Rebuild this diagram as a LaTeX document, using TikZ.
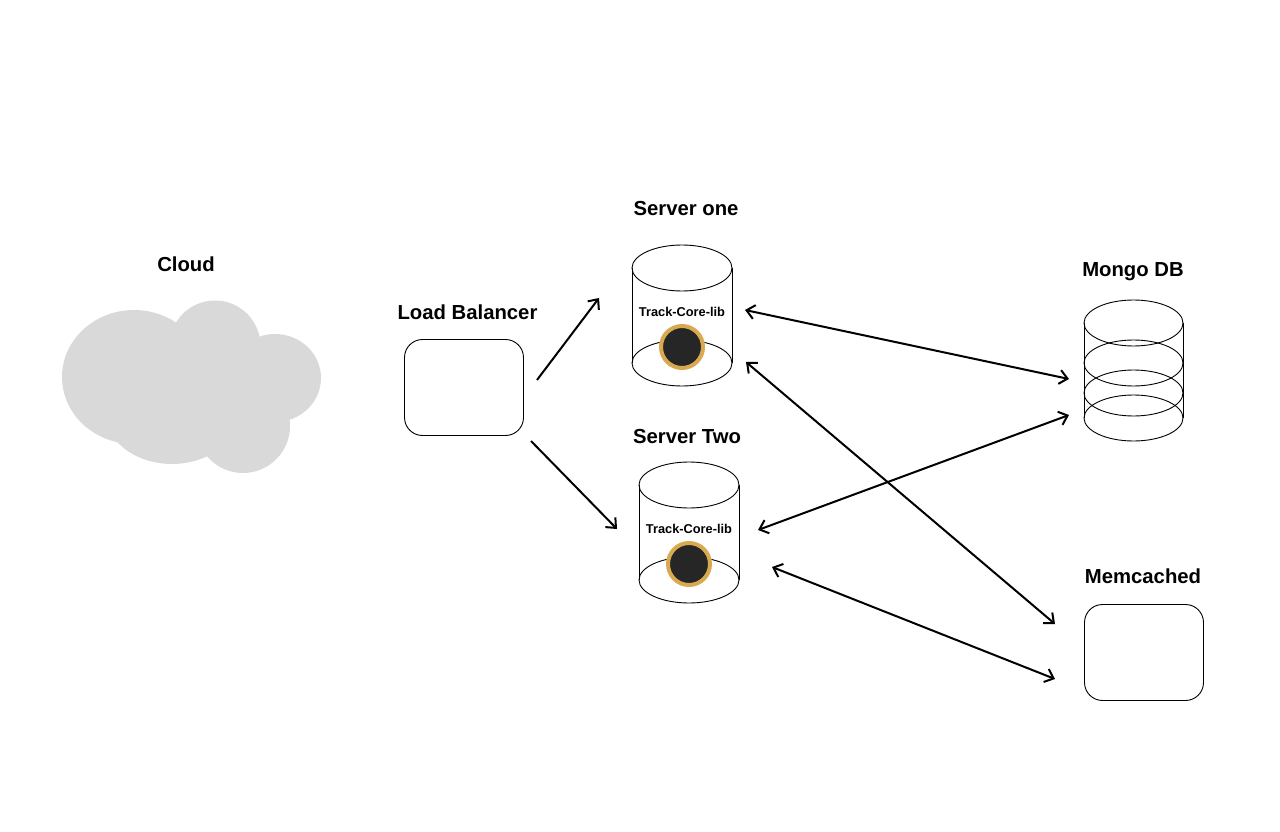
\documentclass[tikz,border=0pt]{standalone}
\usepackage{fontspec}
\setmainfont{Liberation Sans}
\usepackage{tikz}
\usetikzlibrary{%
	arrows.meta,%
	shapes.geometric%
}
\definecolor{Puff}{HTML}{D9D9D9}
\definecolor{Ring}{HTML}{D8A94F}
\definecolor{Core}{HTML}{262626}
\tikzset{
	title/.style={anchor=base,font=\fontsize{20.3}{24}\selectfont\bfseries},
	tag/.style={anchor=base,font=\fontsize{12.8}{14}\selectfont\bfseries},
	box/.style={draw,line width=0.9pt,rounded corners=18pt,minimum width=119pt,minimum height=96pt,inner sep=0pt},
	barb/.tip={Straight Barb[length=8pt,width=14pt,line width=2pt]},
	link/.style={line width=2pt,-barb},
	dlink/.style={line width=2pt,barb-barb},
	disc/.style={draw,line width=0.9pt}
}
\begin{document}
\begin{tikzpicture}[x=1pt,y=-1pt]
\useasboundingbox (0,0) rectangle (1280,832);

% cloud
\fill [Puff] (134,377) ellipse [x radius=72,y radius=67];
\fill [Puff] (215,346) circle [radius=45.5];
\fill [Puff] (275,378) ellipse [x radius=46,y radius=44];
\fill [Puff] (243,426) circle [radius=47];
\fill [Puff] (172,410) ellipse [x radius=68,y radius=54];
\node (cloud) at (186,271) [title] {Cloud};

\node (balancer) at (464,387.5) [box] {};
\node (balancertitle) at (467.5,319) [title] {Load Balancer};

% two servers, same drawing
\foreach \name/\cx/\cy in {one/682/268,two/689/485} {
	\draw [disc] (\cx-50,\cy) -- (\cx-50,\cy+95);
	\draw [disc] (\cx+50,\cy) -- (\cx+50,\cy+95);
	\draw [disc] (\cx,\cy) ellipse [x radius=50,y radius=23];
	\draw [disc] (\cx,\cy+95) ellipse [x radius=50,y radius=23];
	\node (core\name) at (\cx,\cy+79) [circle,draw=Ring,fill=Core,line width=4pt,minimum size=42pt,inner sep=0pt] {};
	\node (lib\name) at (\cx,\cy+48.5) [tag] {Track-Core-lib};
}
\node (serverone) at (686,215) [title] {Server one};
\node (servertwo) at (687,443) [title] {Server Two};

% mongo
\draw [disc] (1084,323) -- (1084,418);
\draw [disc] (1183,323) -- (1183,418);
\foreach \cy in {323,363,393,418}
	\draw [disc] (1133.5,\cy) ellipse [x radius=49.5,y radius=23];
\node (mongo) at (1133,276) [title] {Mongo DB};

\node (memcached) at (1144,652.5) [box] {};
\node (memcachedtitle) at (1143,583) [title] {Memcached};

\coordinate (a1) at (537,380);
\coordinate (a2) at (599,298);
\coordinate (b1) at (531,441);
\coordinate (b2) at (617,529);
\coordinate (c1) at (745,310);
\coordinate (c2) at (1069,379);
\coordinate (d1) at (746,362);
\coordinate (d2) at (1055,624);
\coordinate (e1) at (758,530);
\coordinate (e2) at (1069,415);
\coordinate (f1) at (772,567);
\coordinate (f2) at (1055,679);

\draw [link] (a1) -- (a2);
\draw [link] (b1) -- (b2);
\draw [dlink] (c1) -- (c2);
\draw [dlink] (d1) -- (d2);
\draw [dlink] (e1) -- (e2);
\draw [dlink] (f1) -- (f2);
\end{tikzpicture}
\end{document}
